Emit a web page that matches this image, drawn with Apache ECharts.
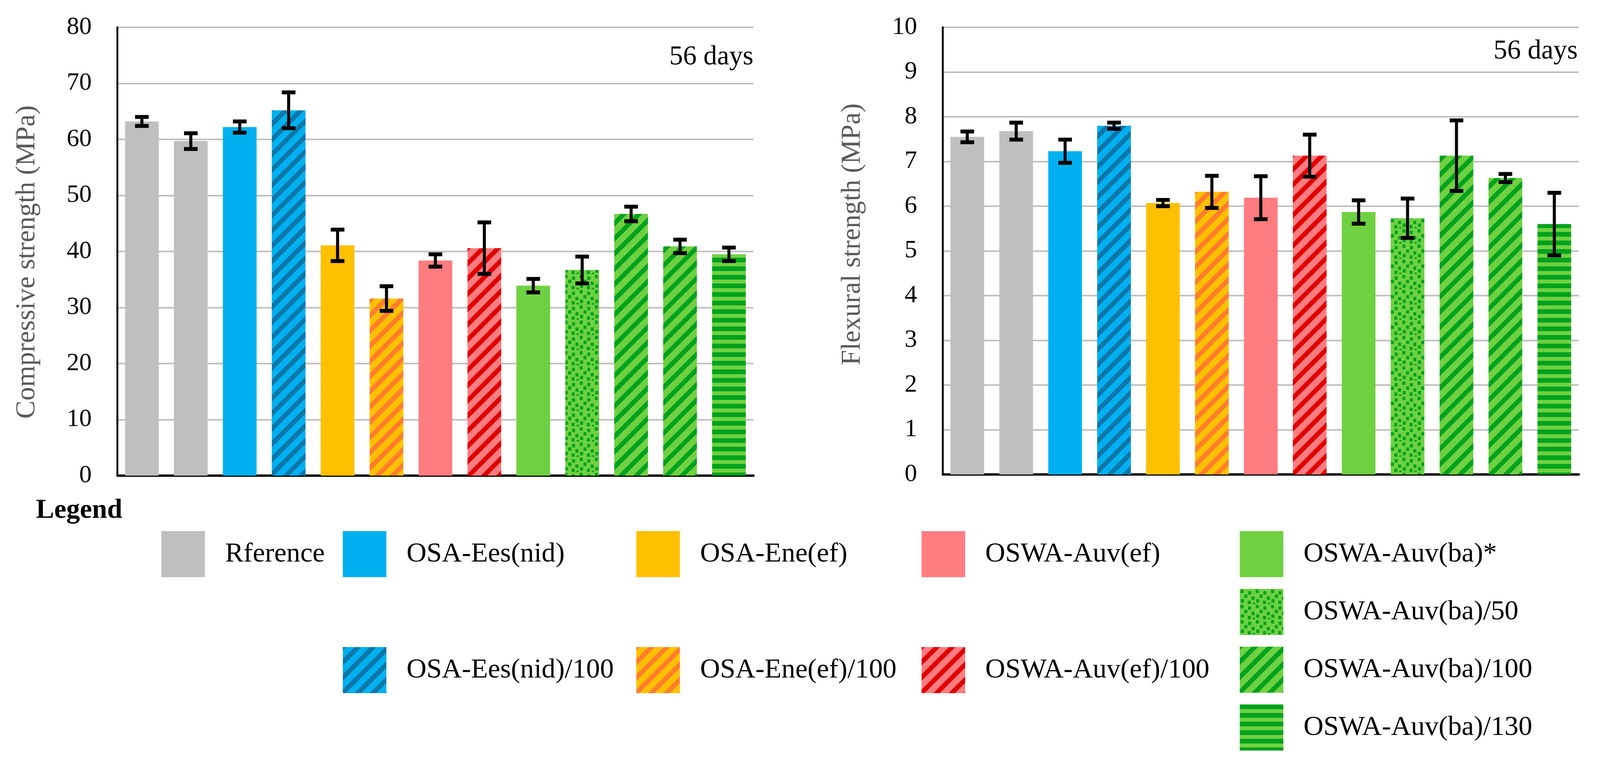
<!DOCTYPE html>
<html><head><meta charset="utf-8">
<script src="https://cdn.jsdelivr.net/npm/echarts@6/dist/echarts.min.js"></script>
<style>html,body{margin:0;padding:0;background:#fff;width:100%;height:100%;overflow:hidden;}#c{width:100%;height:100%;}</style>
</head><body><div id="c"></div>
<script>
// ---------- data ----------
const categories = ['Rference-1','Rference-2','OSA-Ees(nid)','OSA-Ees(nid)/100','OSA-Ene(ef)','OSA-Ene(ef)/100','OSWA-Auv(ef)','OSWA-Auv(ef)/100','OSWA-Auv(ba)*','OSWA-Auv(ba)/50','OSWA-Auv(ba)/100-a','OSWA-Auv(ba)/100-b','OSWA-Auv(ba)/130'];
const legendGroup = ['Rference','Rference','OSA-Ees(nid)','OSA-Ees(nid)/100','OSA-Ene(ef)','OSA-Ene(ef)/100','OSWA-Auv(ef)','OSWA-Auv(ef)/100','OSWA-Auv(ba)*','OSWA-Auv(ba)/50','OSWA-Auv(ba)/100','OSWA-Auv(ba)/100','OSWA-Auv(ba)/130'];
const compressive    = [63.2, 59.7, 62.2, 65.2, 41.1, 31.6, 38.4, 40.6, 33.9, 36.7, 46.7, 40.9, 39.5];
const compressiveErr = [0.8, 1.4, 1.0, 3.2, 2.8, 2.2, 1.1, 4.6, 1.2, 2.4, 1.3, 1.2, 1.2];
const flexural       = [7.55, 7.68, 7.23, 7.80, 6.07, 6.32, 6.19, 7.13, 5.87, 5.73, 7.13, 6.63, 5.60];
const flexuralErr    = [0.12, 0.19, 0.26, 0.07, 0.07, 0.36, 0.48, 0.47, 0.26, 0.44, 0.79, 0.09, 0.70];
const compAxis = {min: 0, max: 80, interval: 10};
const flexAxis = {min: 0, max: 10, interval: 1};
const titles = {comp: 'Compressive strength (MPa)', flex: 'Flexural strength (MPa)', age: '56 days', legend: 'Legend'};

// ---------- scaling to the real viewport (layout designed on a 4224 x 1959 basis) ----------
const el = document.getElementById('c');
const W = el.clientWidth || window.innerWidth, H = el.clientHeight || window.innerHeight;
const sx = W / 4224, sy = H / 1959, sf = Math.min(sx, sy);
const X = v => v * sx, Y = v => v * sy, F = v => v * sf;

// ---------- patterns ----------
function cv(w, h){ const c = document.createElement('canvas'); c.width = Math.max(1, Math.round(w)); c.height = Math.max(1, Math.round(h)); return c; }
function diag(bg, fg, size, lw){
  size = Math.round(F(size)); lw = F(lw);
  const c = cv(size, size), g = c.getContext('2d');
  g.fillStyle = bg; g.fillRect(0, 0, size, size);
  g.strokeStyle = fg; g.lineWidth = lw;
  for (let k = -2; k <= 2; k++) {
    g.beginPath(); g.moveTo(k * size - size, 2 * size); g.lineTo(k * size + 2 * size, -size); g.stroke();
  }
  return {image: c, repeat: 'repeat'};
}
function dots(bg, fg){
  const s = F(40), c = cv(s, s), g = c.getContext('2d');
  g.fillStyle = bg; g.fillRect(0, 0, c.width, c.height);
  g.fillStyle = fg;
  [[2,2],[22,6],[12,15],[31,20],[3,27],[21,31],[34,36]].forEach(p => g.fillRect(F(p[0]), F(p[1]), F(8), F(9)));
  return {image: c, repeat: 'repeat'};
}
function hstripes(bg, fg, period, dark){
  const p = Math.round(F(period)), c = cv(8, p), g = c.getContext('2d');
  g.fillStyle = bg; g.fillRect(0, 0, 8, p);
  g.fillStyle = fg; g.fillRect(0, 0, 8, Math.round(F(dark)));
  return {image: c, repeat: 'repeat'};
}
const GREEN = '#6FD141', DGREEN = '#00A21E';
const styles = {
  'Rference': '#BFBFBF',
  'OSA-Ees(nid)': '#00B0F0',
  'OSA-Ees(nid)/100': diag('#00B0F0', '#0E76A8', 40, 12),
  'OSA-Ene(ef)': '#FFC000',
  'OSA-Ene(ef)/100': diag('#FFC000', '#FF7C2C', 40, 12),
  'OSWA-Auv(ef)': '#FF7C80',
  'OSWA-Auv(ef)/100': diag('#FF7C80', '#E00000', 40, 12),
  'OSWA-Auv(ba)*': GREEN,
  'OSWA-Auv(ba)/50': dots(GREEN, DGREEN),
  'OSWA-Auv(ba)/100': diag(GREEN, DGREEN, 40, 12),
  'OSWA-Auv(ba)/130': hstripes(GREEN, DGREEN, 23, 12)
};
const legendNames = [...new Set(legendGroup)];
const FONT = 'Liberation Serif';

function barSeries(values, idx){
  return legendNames.map(n => ({
    type: 'bar', name: n, xAxisIndex: idx, yAxisIndex: idx,
    barWidth: X(89), barGap: '-100%', silent: true,
    itemStyle: {color: styles[n]},
    data: values.map((v, i) => legendGroup[i] === n ? v : '-')
  }));
}
function errSeries(values, errs, idx){
  return {
    type: 'custom', xAxisIndex: idx, yAxisIndex: idx, z: 10, silent: true,
    encode: {x: 0, y: [1, 2]},
    data: values.map((v, i) => [i, v - errs[i], v + errs[i]]),
    renderItem(params, api){
      const x = api.value(0);
      const lo = api.coord([x, api.value(1)]);
      const hi = api.coord([x, api.value(2)]);
      const cw = X(36), ch = Y(10);
      return {type: 'group', children: [
        {type: 'line', shape: {x1: lo[0], y1: lo[1], x2: hi[0], y2: hi[1]}, style: {stroke: '#000', lineWidth: X(8)}},
        {type: 'rect', shape: {x: hi[0] - cw / 2, y: hi[1] - ch / 2, width: cw, height: ch}, style: {fill: '#000'}},
        {type: 'rect', shape: {x: lo[0] - cw / 2, y: lo[1] - ch / 2, width: cw, height: ch}, style: {fill: '#000'}}
      ]};
    }
  };
}
function yAxis(idx, ax){
  return {
    type: 'value', gridIndex: idx, min: ax.min, max: ax.max, interval: ax.interval,
    axisLine: {show: true, lineStyle: {color: '#000', width: F(5)}},
    axisTick: {show: false},
    splitLine: {show: true, lineStyle: {color: '#BFBFBF', width: F(4)}},
    axisLabel: {fontFamily: FONT, fontSize: F(66), color: '#000', margin: X(68)}
  };
}
function xAxis(idx){
  return {
    type: 'category', gridIndex: idx, data: categories,
    axisLine: {show: true, lineStyle: {color: '#000', width: F(6)}},
    axisTick: {show: false}, axisLabel: {show: false}, splitLine: {show: false}
  };
}
const legendCols = [
  {left: 426,  items: legendNames.slice(0, 1), gap: 179},
  {left: 905,  items: legendNames.slice(1, 3), gap: 179},
  {left: 1680, items: legendNames.slice(3, 5), gap: 179},
  {left: 2433, items: legendNames.slice(5, 7), gap: 179},
  {left: 3273, items: legendNames.slice(7, 11), gap: 30}
];
const legends = legendCols.map(c => ({
  orient: 'vertical', left: X(c.left), top: Y(1360), padding: 0,
  itemWidth: X(115), itemHeight: Y(118), itemGap: Y(c.gap), icon: 'rect',
  selectedMode: false, data: c.items,
  textStyle: {fontFamily: FONT, fontSize: F(73), color: '#000', padding: [0, 0, 0, X(48)]}
}));

const chart = echarts.init(el, null, {renderer: 'canvas', width: W, height: H});
chart.setOption({
  backgroundColor: '#fff',
  animation: false,
  grid: [
    {left: X(310), top: Y(70), width: X(1679), height: Y(1148)},
    {left: X(2489), top: Y(70), width: X(1679), height: Y(1145)}
  ],
  xAxis: [xAxis(0), xAxis(1)],
  yAxis: [yAxis(0, compAxis), yAxis(1, flexAxis)],
  legend: legends,
  series: [
    ...barSeries(compressive, 0), errSeries(compressive, compressiveErr, 0),
    ...barSeries(flexural, 1), errSeries(flexural, flexuralErr, 1)
  ],
  graphic: [
    {type: 'text', x: X(72), y: Y(671), rotation: Math.PI / 2,
     style: {text: titles.comp, fontFamily: FONT, fontSize: F(72), fill: '#595959', align: 'center', verticalAlign: 'middle'}},
    {type: 'text', x: X(2251), y: Y(600), rotation: Math.PI / 2,
     style: {text: titles.flex, fontFamily: FONT, fontSize: F(72), fill: '#595959', align: 'center', verticalAlign: 'middle'}},
    {type: 'text', x: X(1989), y: Y(147),
     style: {text: titles.age, fontFamily: FONT, fontSize: F(72), fill: '#000', align: 'right', verticalAlign: 'middle'}},
    {type: 'text', x: X(4165), y: Y(132),
     style: {text: titles.age, fontFamily: FONT, fontSize: F(72), fill: '#000', align: 'right', verticalAlign: 'middle'}},
    {type: 'text', x: X(95), y: Y(1308),
     style: {text: titles.legend, fontFamily: FONT, fontSize: F(72), fontWeight: 'bold', fill: '#000', align: 'left', verticalAlign: 'middle'}}
  ]
});
</script></body></html>
